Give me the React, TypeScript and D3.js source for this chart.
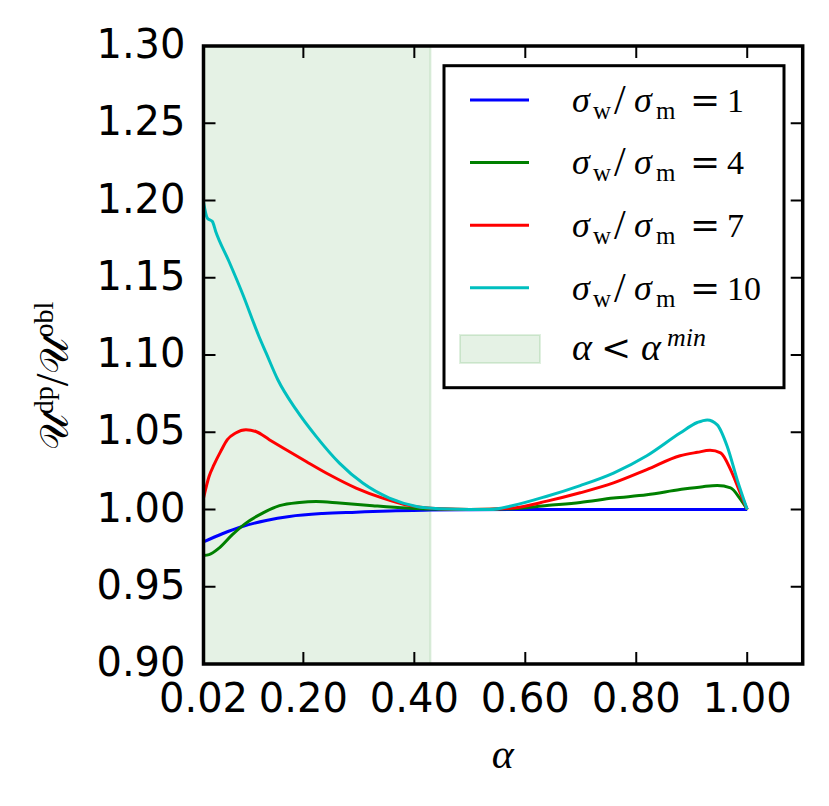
import React from 'react';
import * as d3 from 'd3';

const xTicks = [0.02, 0.2, 0.4, 0.6, 0.8, 1.0];
const yTicks = [0.9, 0.95, 1.0, 1.05, 1.1, 1.15, 1.2, 1.25, 1.3];
const xDomain = [0.02, 1.1];
const yDomain = [0.9, 1.3];
const shadeRange = [0.02, 0.429];

const blueAlpha = [0.02, 0.054, 0.09, 0.133, 0.175, 0.235, 0.295, 0.355, 0.43, 0.5, 0.6, 0.7, 0.8, 0.9, 1.0];
const blueVal = [0.979, 0.9843, 0.989, 0.9929, 0.9955, 0.9974, 0.9983, 0.9991, 0.9996, 0.9999, 1.0, 1.0, 1.0, 1.0, 1.0];

const greenAlpha = [0.02, 0.03, 0.048, 0.072, 0.0965, 0.1265, 0.157, 0.193, 0.223, 0.265, 0.325, 0.386, 0.43, 0.5, 0.578, 0.639, 0.699, 0.759, 0.819, 0.879, 0.92, 0.946, 0.97, 0.988, 1.0];
const greenVal = [0.9703, 0.9708, 0.975, 0.9837, 0.9912, 0.9977, 1.0025, 1.0046, 1.0052, 1.0042, 1.0025, 1.001, 1.0003, 1.0, 1.0005, 1.0026, 1.0046, 1.0074, 1.0095, 1.0129, 1.0148, 1.0155, 1.014, 1.0065, 1.0];

const redAlpha = [0.02, 0.03, 0.039, 0.051, 0.063, 0.078, 0.0965, 0.1145, 0.1386, 0.169, 0.205, 0.247, 0.295, 0.343, 0.392, 0.448, 0.5, 0.578, 0.639, 0.699, 0.759, 0.819, 0.879, 0.91, 0.933, 0.952, 0.97, 0.985, 1.0];
const redVal = [1.0074, 1.0214, 1.029, 1.0376, 1.0452, 1.0495, 1.0516, 1.0505, 1.0452, 1.0387, 1.0311, 1.0225, 1.0139, 1.0074, 1.0025, 1.0005, 1.0, 1.001, 1.0054, 1.0108, 1.0172, 1.0258, 1.0348, 1.037, 1.0383, 1.0366, 1.0258, 1.0129, 1.0];

const cyanAlpha = [0.02, 0.027, 0.036, 0.042, 0.066, 0.09, 0.12, 0.133, 0.154, 0.187, 0.223, 0.265, 0.307, 0.355, 0.404, 0.448, 0.5, 0.536, 0.578, 0.639, 0.699, 0.759, 0.819, 0.879, 0.91, 0.928, 0.946, 0.964, 0.982, 1.0];
const cyanVal = [1.199, 1.1885, 1.1864, 1.18, 1.1605, 1.14, 1.112, 1.1012, 1.084, 1.0646, 1.0473, 1.03, 1.0171, 1.0074, 1.002, 1.0005, 1.0, 1.0, 1.0026, 1.0086, 1.0155, 1.0236, 1.0348, 1.0495, 1.0563, 1.058, 1.0548, 1.0408, 1.0192, 1.0];

const seriesLabels = ['1', '4', '7', '10'];
const seriesColors = ['#0000ff', '#008000', '#ff0000', '#00bfbf'];
const seriesAlpha = [blueAlpha, greenAlpha, redAlpha, cyanAlpha];
const seriesVals = [blueVal, greenVal, redVal, cyanVal];

const W = 829;
const H = 806;
const L = 203.5, R = 802.7, T = 46, B = 664;

export default function App() {
  const x = d3.scaleLinear().domain(xDomain).range([L, R]);
  const y = d3.scaleLinear().domain(yDomain).range([B, T]);
  const fmt = d3.format('.2f');
  const line = d3
    .line<[number, number]>()
    .x((d) => x(d[0]))
    .y((d) => y(d[1]))
    .curve(d3.curveMonotoneX);

  const tickFont = "'DejaVu Sans', sans-serif";
  const mathFont = "'Liberation Serif', 'DejaVu Serif', serif";
  const tickLen = 12;

  const legX = 444, legY = 65.7, legW = 340, legH = 322;
  const rowY = [100, 162.6, 225.2, 287.8];
  const tx = 572;

  return (
    <svg width={W} height={H} style={{ position: 'absolute', left: 0, top: 0, background: '#fff' }}>
      <rect x={0} y={0} width={W} height={H} fill="#fff" />
      {/* shaded region */}
      <rect
        x={x(shadeRange[0])}
        y={T}
        width={x(shadeRange[1]) - x(shadeRange[0])}
        height={B - T}
        fill="#008000"
        fillOpacity={0.1}
        stroke="#008000"
        strokeOpacity={0.12}
        strokeWidth={2}
      />
      {/* lines */}
      {seriesAlpha.map((xs, i) => (
        <path
          key={i}
          d={line(xs.map((a, j) => [a, seriesVals[i][j]] as [number, number])) || ''}
          fill="none"
          stroke={seriesColors[i]}
          strokeWidth={3}
          strokeLinejoin="round"
        />
      ))}
      {/* ticks */}
      {yTicks.map((t) => (
        <g key={'y' + t}>
          <line x1={L} x2={L + tickLen} y1={y(t)} y2={y(t)} stroke="#000" strokeWidth={2} />
          <line x1={R} x2={R - tickLen} y1={y(t)} y2={y(t)} stroke="#000" strokeWidth={2} />
          <text
            x={L - 18}
            y={y(t) + 12}
            textAnchor="end"
            fontFamily={tickFont}
            fontSize={40}
            fill="#000"
          >
            {fmt(t)}
          </text>
        </g>
      ))}
      {xTicks.map((t) => (
        <g key={'x' + t}>
          <line x1={x(t)} x2={x(t)} y1={B} y2={B - tickLen} stroke="#000" strokeWidth={2} />
          <line x1={x(t)} x2={x(t)} y1={T} y2={T + tickLen} stroke="#000" strokeWidth={2} />
          <text x={x(t)} y={711.5} textAnchor="middle" fontFamily={tickFont} fontSize={40} fill="#000">
            {fmt(t)}
          </text>
        </g>
      ))}
      {/* frame */}
      <rect x={L} y={T} width={R - L} height={B - T} fill="none" stroke="#000" strokeWidth={3.5} />
      {/* axis labels */}
      <text x={502.7} y={768} textAnchor="middle" fontFamily={mathFont} fontStyle="italic" fontSize={42} fill="#000">
        α
      </text>
      <text
        transform={`translate(68,376) rotate(-90)`}
        textAnchor="middle"
        fontFamily={mathFont}
        fontSize={40}
        fill="#000"
      >
        <tspan>𝒰</tspan>
        <tspan fontSize={28} dy={-15}>dp</tspan>
        <tspan dy={15} fontSize={46}>/</tspan>
        <tspan>𝒰</tspan>
        <tspan fontSize={28} dy={-15}>obl</tspan>
      </text>
      {/* legend */}
      <rect x={legX} y={legY} width={legW} height={legH} fill="#fff" stroke="#000" strokeWidth={3} />
      {seriesLabels.map((lab, i) => {
        const by = rowY[i] + 11.7;
        return (
          <g key={'leg' + i}>
            <line x1={470} x2={529} y1={rowY[i]} y2={rowY[i]} stroke={seriesColors[i]} strokeWidth={3} />
            <text fontFamily={mathFont} fill="#000">
              <tspan x={tx} y={by} fontSize={36} fontStyle="italic">σ</tspan>
              <tspan x={593} y={by + 7} fontSize={25}>w</tspan>
              <tspan x={614} y={by + 2} fontSize={42}>/</tspan>
              <tspan x={634} y={by} fontSize={36} fontStyle="italic">σ</tspan>
              <tspan x={656} y={by + 7} fontSize={25}>m</tspan>
              <tspan x={690} y={by} fontSize={36} fontFamily="'DejaVu Serif', serif">=</tspan>
              <tspan x={727} y={by} fontSize={34}>{lab}</tspan>
            </text>
          </g>
        );
      })}
      <rect
        x={460}
        y={335}
        width={80}
        height={28}
        fill="#008000"
        fillOpacity={0.1}
        stroke="#008000"
        strokeOpacity={0.12}
        strokeWidth={2}
      />
      <text fontFamily={mathFont} fill="#000">
        <tspan x={tx} y={360} fontSize={38} fontStyle="italic">α</tspan>
        <tspan x={601} y={360} fontSize={36} fontFamily="'DejaVu Serif', serif">&lt;</tspan>
        <tspan x={641} y={360} fontSize={38} fontStyle="italic">α</tspan>
        <tspan x={667} y={346} fontSize={26} fontStyle="italic">min</tspan>
      </text>
    </svg>
  );
}
